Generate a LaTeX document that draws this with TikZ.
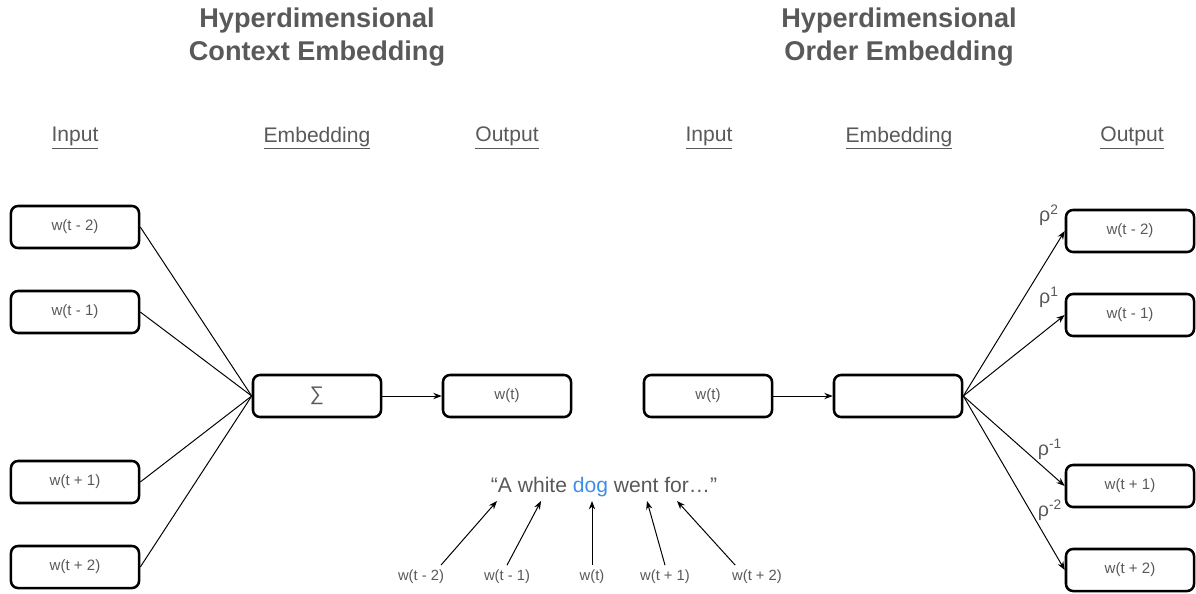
\documentclass[tikz,border=0pt]{standalone}
\usepackage{fontspec}
\setmainfont{Liberation Sans}
\usetikzlibrary{arrows.meta}
\definecolor{txtgray}{HTML}{595959}
\definecolor{dogblue}{HTML}{3E8EE8}
\begin{document}
\begin{tikzpicture}[x=0.025cm,y=-0.025cm,
  wbox/.style={draw,line width=1.8pt,rounded corners=5pt,minimum width=3.2cm,minimum height=1.05cm,
    text=txtgray,font=\fontsize{10.7}{12}\selectfont},
  head/.style={text=txtgray,font=\fontsize{15}{18}\selectfont},
  title/.style={text=txtgray,font=\bfseries\fontsize{19.3}{24}\selectfont,align=center},
  lbl/.style={text=txtgray,font=\fontsize{10.5}{12}\selectfont},
  rho/.style={text=txtgray,font=\fontsize{14}{16}\selectfont},
  conn/.style={line width=0.7pt},
  arr/.style={conn,-{Stealth[length=6pt,width=4.5pt]}}]

\useasboundingbox (0,0) rectangle (1196,593);

\node[title] (ctitle) at (317,37) {Hyperdimensional\\Context Embedding};
\node[title] (otitle) at (899,37) {Hyperdimensional\\Order Embedding};

\node[head] (cin) at (75,138) {\underline{Input}};
\node[head] (cemb) at (317,138) {\underline{Embedding}};
\node[head] (cout) at (507,138) {\underline{Output}};
\node[head] (oin) at (709,138) {\underline{Input}};
\node[head] (oemb) at (899,138) {\underline{Embedding}};
\node[head] (oout) at (1132,138) {\underline{Output}};

\node[wbox] (in1) at (75,227) {w(t - 2)};
\node[wbox] (in2) at (75,312) {w(t - 1)};
\node[wbox] (in3) at (75,482) {w(t + 1)};
\node[wbox] (in4) at (75,567) {w(t + 2)};
\node[wbox,font=\fontsize{14}{16}\selectfont] (sum) at (317,396) {∑};
\node[wbox] (cw) at (507,396) {w(t)};

\draw[conn] (in1.east) -- (sum.west);
\draw[conn] (in2.east) -- (sum.west);
\draw[conn] (in3.east) -- (sum.west);
\draw[conn] (in4.east) -- (sum.west);
\draw[arr] (sum) -- (cw);

\node[wbox] (ow) at (708,396) {w(t)};
\node[wbox] (emb) at (898,396) {};
\node[wbox] (out1) at (1130,231) {w(t - 2)};
\node[wbox] (out2) at (1130,315) {w(t - 1)};
\node[wbox] (out3) at (1130,486) {w(t + 1)};
\node[wbox] (out4) at (1130,570) {w(t + 2)};

\draw[arr] (ow) -- (emb);
\draw[arr] (emb.east) -- (out1.west);
\draw[arr] (emb.east) -- (out2.west);
\draw[arr] (emb.east) -- (out3.west);
\draw[arr] (emb.east) -- (out4.west);

\node[rho] (r1) at (1049,215) {ρ\textsuperscript{2}};
\node[rho] (r2) at (1049,297) {ρ\textsuperscript{1}};
\node[rho] (r3) at (1050,449) {ρ\textsuperscript{-1}};
\node[rho] (r4) at (1050,510) {ρ\textsuperscript{-2}};

\node[head] (quote) at (604,487) {“A white \textcolor{dogblue}{dog} went for…”};

\coordinate (q1) at (497,501);
\coordinate (q2) at (541,501);
\coordinate (q3) at (592,501);
\coordinate (q4) at (647,501);
\coordinate (q5) at (677,501);

\node[lbl] (l1) at (421,577) {w(t - 2)};
\node[lbl] (l2) at (507,577) {w(t - 1)};
\node[lbl] (l3) at (592,577) {w(t)};
\node[lbl] (l4) at (665,577) {w(t + 1)};
\node[lbl] (l5) at (757,577) {w(t + 2)};

\draw[arr] (l1.north east) ++(-8,0) coordinate (s1) (s1) -- (q1);
\draw[arr] (l2.north) -- (q2);
\draw[arr] (l3.north) -- (q3);
\draw[arr] (l4.north) -- (q4);
\draw[arr] (l5.north west) ++(8,0) coordinate (s5) (s5) -- (q5);

\end{tikzpicture}
\end{document}
